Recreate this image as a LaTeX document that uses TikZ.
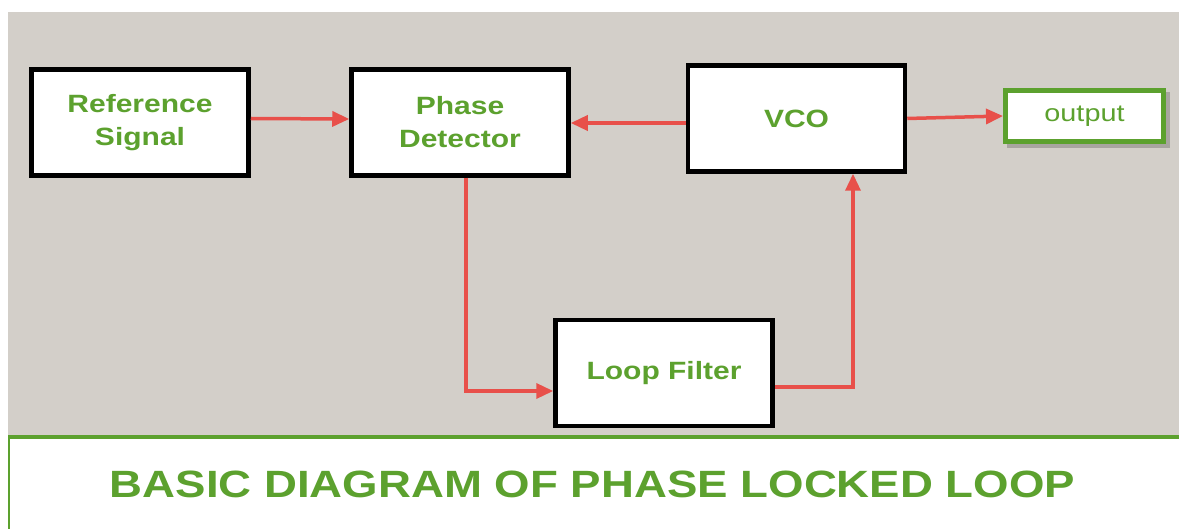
\documentclass[tikz,border=0pt]{standalone}
\usepackage{fontspec}
\usetikzlibrary{arrows.meta}
\newfontfamily\lsans[FakeStretch=1.2]{Liberation Sans}
\definecolor{pllgreen}{RGB}{92,161,46}
\definecolor{pllred}{RGB}{232,80,74}
\definecolor{pllgray}{RGB}{211,207,201}
\tikzset{
  blockbox/.style={draw=black, line width=4.5pt, fill=white, inner sep=0pt,
    minimum width=217pt, minimum height=106pt, align=center,
    text=pllgreen, font=\lsans\bfseries\fontsize{25}{33}\selectfont},
  outbox/.style={draw=pllgreen, line width=5pt, fill=white, inner sep=0pt,
    minimum width=158pt, minimum height=51pt,
    text=pllgreen, font=\lsans\fontsize{24}{28}\selectfont},
  sig/.style={draw=pllred, line width=3.5pt,
    -{Triangle[length=17pt,width=15pt]}}
}
\begin{document}
\begin{tikzpicture}[x=1pt,y=-1pt]
\useasboundingbox (0,0) rectangle (1179,529);
\fill[white] (0,0) rectangle (1179,529);
\fill[pllgray] (8,12) rectangle (1179,435);
\draw[pllgreen, line width=4pt] (8,437) -- (1179,437);
\draw[pllgreen, line width=2pt] (9,437) -- (9,529);

\node[blockbox] (ref) at (140,122.5) {Reference\\Signal};
\node[blockbox] (pd) at (460,122.5) {Phase\\Detector};
\node[blockbox] (vco) at (796.5,118.5) {VCO};
\node[blockbox] (lf) at (664,373) {Loop Filter};
\fill[black, opacity=0.2] (1007,92) rectangle (1170,148);
\node[outbox] (out) at (1084.5,116) {output};

\draw[sig] ([yshift=4pt]ref.east) -- ([yshift=3.5pt]pd.west);
\draw[sig] ([yshift=-4.5pt]vco.west) -- ([yshift=-0.5pt]pd.east);
\draw[sig] (vco.east) -- (out.west);
\draw[sig] ([xshift=6pt]pd.south) |- ([yshift=-18pt]lf.west);
\draw[sig] ([yshift=-14pt]lf.east) -| ([xshift=56.5pt]vco.south);

\node[anchor=base, text=pllgreen, font=\lsans\bfseries\fontsize{38}{44}\selectfont]
  (title) at (592.5,497.5) {BASIC DIAGRAM OF PHASE LOCKED LOOP};
\end{tikzpicture}
\end{document}
